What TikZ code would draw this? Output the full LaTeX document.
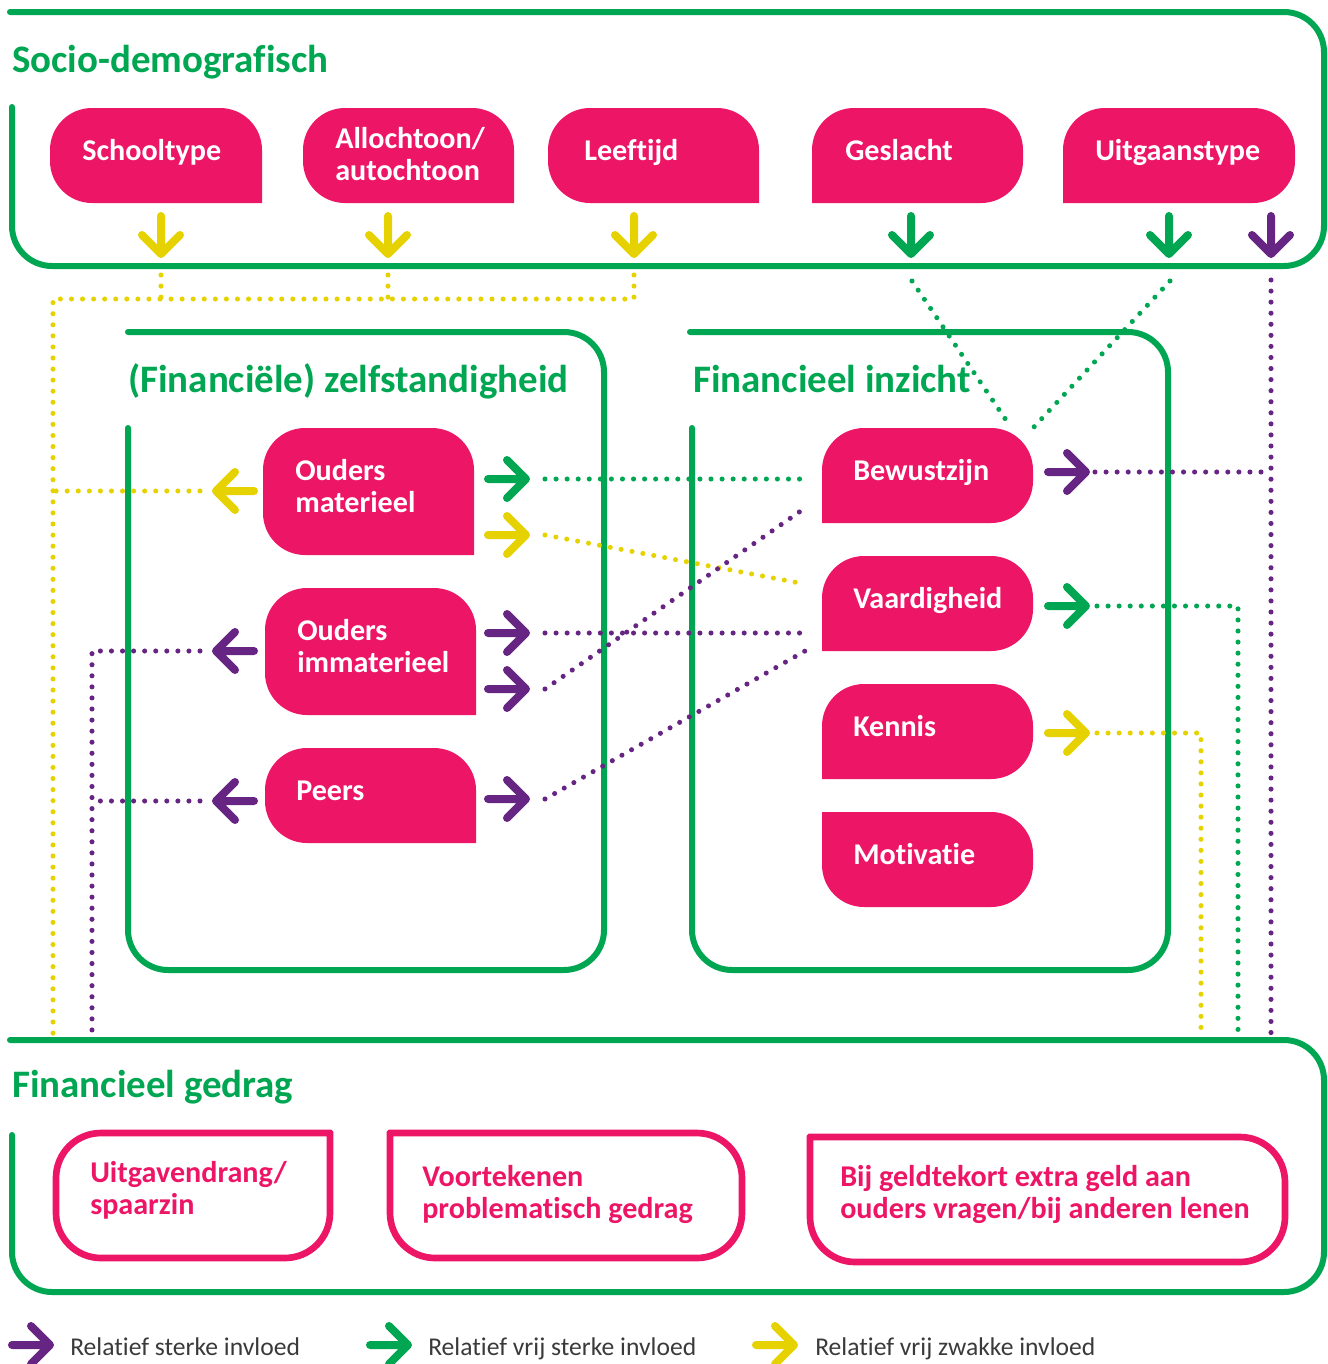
\documentclass[tikz,border=0pt]{standalone}
\usepackage{fontspec}
\setmainfont{Carlito}[Ligatures=NoCommon]
\definecolor{cG}{HTML}{00A651}
\definecolor{cP}{HTML}{ED1566}
\definecolor{cV}{HTML}{662483}
\definecolor{cY}{HTML}{E6D200}
\definecolor{cT}{HTML}{3A3A3A}
\newcommand\pinkshape[8]{%
  \fill[cP] (#1+#5,#2) -- (#3-#6,#2) arc[start angle=-90,end angle=0,radius=#6]
    -- (#3,#4-#7) arc[start angle=0,end angle=90,radius=#7]
    -- (#1+#8,#4) arc[start angle=90,end angle=180,radius=#8]
    -- (#1,#2+#5) arc[start angle=180,end angle=270,radius=#5] -- cycle;}
\newcommand\outshape[8]{%
  \draw[cP,line width=5pt,fill=white] (#1+#5,#2) -- (#3-#6,#2) arc[start angle=-90,end angle=0,radius=#6]
    -- (#3,#4-#7) arc[start angle=0,end angle=90,radius=#7]
    -- (#1+#8,#4) arc[start angle=90,end angle=180,radius=#8]
    -- (#1,#2+#5) arc[start angle=180,end angle=270,radius=#5] -- cycle;}
\begin{document}
\begin{tikzpicture}[x=0.75pt,y=-0.75pt,
  frame/.style={draw=cG,line width=4.5pt,line cap=round},
  dotline/.style={line width=3.8pt,line cap=round,dash pattern=on 0pt off 8.3pt},
  arrowline/.style={line width=6pt,line cap=round,line join=round},
  ntext/.style={text=white,font=\bfseries\fontsize{22.6}{24}\selectfont,align=left,inner sep=0pt},
  btext/.style={text=cP,font=\bfseries\fontsize{22.6}{24}\selectfont,align=left,inner sep=0pt},
  title/.style={text=cG,font=\bfseries\fontsize{29.2}{32}\selectfont,inner sep=0pt,anchor=base west},
  legtext/.style={text=cT,font=\fontsize{19.2}{22}\selectfont,inner sep=0pt,anchor=base west},
  arrR/.pic={\draw[arrowline] (-19,0) -- (19,0) (0,-19) -- (19,0) -- (0,19);},
  arrL/.pic={\draw[arrowline] (19,0) -- (-19,0) (0,-19) -- (-19,0) -- (0,19);},
  arrD/.pic={\draw[arrowline] (0,-19) -- (0,19) (-19,0) -- (0,19) -- (19,0);}]
\useasboundingbox (0,0) rectangle (1328,1364);

% ---------- frames ----------
\draw[frame] (10,12) -- (1284,12) arc[start angle=-90,end angle=0,radius=40]
  -- (1324,226) arc[start angle=0,end angle=90,radius=40]
  -- (52,266) arc[start angle=90,end angle=180,radius=40] -- (12,107);
\draw[frame] (128,332) -- (564,332) arc[start angle=-90,end angle=0,radius=40]
  -- (604,930) arc[start angle=0,end angle=90,radius=40]
  -- (168,970) arc[start angle=90,end angle=180,radius=40] -- (128,428);
\draw[frame] (690,332) -- (1128,332) arc[start angle=-90,end angle=0,radius=40]
  -- (1168,930) arc[start angle=0,end angle=90,radius=40]
  -- (732,970) arc[start angle=90,end angle=180,radius=40] -- (692,428);
\draw[frame] (10,1040) -- (1284,1040) arc[start angle=-90,end angle=0,radius=40]
  -- (1324,1252) arc[start angle=0,end angle=90,radius=40]
  -- (52,1292) arc[start angle=90,end angle=180,radius=40] -- (12,1135);

% ---------- titles ----------
\node[title] (tSocio) at (12,72) {Socio-demografisch};
\node[title] (tZelf) at (128,392) {(Financiële) zelfstandigheid};
\node[title] (tInz) at (693,392) {Financieel inzicht};
\node[title] (tGed) at (12,1097) {Financieel gedrag};

% ---------- pink boxes ----------
\pinkshape{50}{108}{262}{203}{42}{42}{0.01}{42}
\pinkshape{303}{108}{514}{203}{42}{42}{0.01}{42}
\pinkshape{548}{108}{759}{203}{42}{42}{0.01}{42}
\pinkshape{812}{108}{1023}{203}{42}{42}{42}{0.01}
\pinkshape{1063}{108}{1295}{203}{42}{42}{42}{0.01}
\pinkshape{263}{428}{474}{555}{42}{42}{0.01}{42}
\pinkshape{265}{588}{476}{715}{42}{42}{0.01}{42}
\pinkshape{265}{748}{476}{843}{42}{42}{0.01}{42}
\pinkshape{822}{428}{1033}{523}{42}{42}{42}{0.01}
\pinkshape{822}{556}{1033}{651}{42}{42}{42}{0.01}
\pinkshape{822}{684}{1033}{779}{42}{42}{42}{0.01}
\pinkshape{822}{812}{1033}{907}{0.01}{42}{42}{42}

\node[ntext,anchor=base west] (sch) at (82,160) {Schooltype};
\node[ntext,anchor=base west] (all) at (335,180) {Allochtoon/\\autochtoon};
\node[ntext,anchor=base west] (lee) at (584,160) {Leeftijd};
\node[ntext,anchor=base west] (ges) at (845,160) {Geslacht};
\node[ntext,anchor=base west] (uit) at (1095,160) {Uitgaanstype};
\node[ntext,anchor=base west] (om) at (295,512) {Ouders\\materieel};
\node[ntext,anchor=base west] (oi) at (297,672) {Ouders\\immaterieel};
\node[ntext,anchor=base west] (pe) at (296,800) {Peers};
\node[ntext,anchor=base west] (bew) at (853,480) {Bewustzijn};
\node[ntext,anchor=base west] (vaa) at (853,608) {Vaardigheid};
\node[ntext,anchor=base west] (ken) at (853,736) {Kennis};
\node[ntext,anchor=base west] (mot) at (853,864) {Motivatie};

% ---------- behaviour boxes ----------
\outshape{56}{1133}{330}{1258}{45}{0.01}{45}{45}
\outshape{390}{1133}{742}{1258}{0.01}{45}{45}{45}
\outshape{810}{1137}{1285}{1262}{0.01}{45}{45}{45}
\node[btext,anchor=base west] (uitg) at (90,1214) {Uitgavendrang/\\spaarzin};
\node[btext,anchor=base west] (voor) at (422,1218) {Voortekenen\\problematisch gedrag};
\node[btext,anchor=base west] (bij) at (840,1218) {Bij geldtekort extra geld aan\\ouders vragen/bij anderen lenen};

% ---------- arrow positions ----------
\coordinate (aSch) at (161,235);
\coordinate (aAll) at (388,235);
\coordinate (aLee) at (634,235);
\coordinate (aGes) at (911,235);
\coordinate (aUit) at (1169,235);
\coordinate (aUitP) at (1271,235);
\coordinate (aOmL) at (235,491);
\coordinate (aOmG) at (507,479);
\coordinate (aOmY) at (507,535);
\coordinate (aOiL) at (235,651);
\coordinate (aOiA) at (507,633);
\coordinate (aOiB) at (507,689);
\coordinate (aPeL) at (235,801);
\coordinate (aPeR) at (507,799);
\coordinate (aBew) at (1067,472);
\coordinate (aVaa) at (1067,606);
\coordinate (aKen) at (1067,733);

% ---------- dotted connectors ----------
\coordinate (ySch) at (161,275);
\coordinate (yAll) at (388,275);
\coordinate (yLee) at (634,275);
\coordinate (yBus) at (53,299);
\coordinate (yBot) at (53,1036);
\draw[dotline,cY] (ySch) -- (161,299);
\draw[dotline,cY] (yAll) -- (388,299);
\draw[dotline,cY] (yLee) -- (634,299) -- (yBus) -- (yBot);
\draw[dotline,cY] (200,491) -- (53,491);

\coordinate (gGes) at (912,281);
\coordinate (gUit) at (1170,281);
\coordinate (bewTopA) at (1006,420);
\coordinate (bewTopB) at (1033,428);
\draw[dotline,cG] (gGes) -- (bewTopA);
\draw[dotline,cG] (gUit) -- (bewTopB);

\coordinate (pUit) at (1271,280);
\coordinate (pBot) at (1271,1036);
\draw[dotline,cV] (pUit) -- (pBot);

\coordinate (inBew) at (805,479);
\coordinate (inBew2) at (805,508);
\coordinate (inVaa) at (805,584);
\coordinate (inVaa2) at (805,633);
\coordinate (inVaa3) at (805,651);
\draw[dotline,cG] (545,479) -- (inBew);
\draw[dotline,cY] (545,535) -- (inVaa);
\draw[dotline,cV] (545,633) -- (inVaa2);
\draw[dotline,cV] (545,689) -- (inBew2);
\draw[dotline,cV] (545,799) -- (inVaa3);

\draw[dotline,cV] (1095,472) -- (1271,472);
\coordinate (gBot) at (1238,1036);
\coordinate (yBot2) at (1201,1036);
\draw[dotline,cG] (1097,606) -- (1238,606) -- (gBot);
\draw[dotline,cY] (1097,733) -- (1201,733) -- (yBot2);

\coordinate (pBotL) at (92,1036);
\draw[dotline,cV] (200,651) -- (92,651) -- (pBotL);
\draw[dotline,cV] (200,801) -- (92,801);

% ---------- arrows ----------
\pic[color=cY] at (aSch) {arrD};
\pic[color=cY] at (aAll) {arrD};
\pic[color=cY] at (aLee) {arrD};
\pic[color=cG] at (aGes) {arrD};
\pic[color=cG] at (aUit) {arrD};
\pic[color=cV] at (aUitP) {arrD};
\pic[color=cY] at (aOmL) {arrL};
\pic[color=cG] at (aOmG) {arrR};
\pic[color=cY] at (aOmY) {arrR};
\pic[color=cV] at (aOiL) {arrL};
\pic[color=cV] at (aOiA) {arrR};
\pic[color=cV] at (aOiB) {arrR};
\pic[color=cV] at (aPeL) {arrL};
\pic[color=cV] at (aPeR) {arrR};
\pic[color=cV] at (aBew) {arrR};
\pic[color=cG] at (aVaa) {arrR};
\pic[color=cY] at (aKen) {arrR};

% ---------- legend ----------
\pic[color=cV] at (31,1345) {arrR};
\pic[color=cG] at (389,1345) {arrR};
\pic[color=cY] at (775,1345) {arrR};
\node[legtext] (l1) at (70,1355) {Relatief sterke invloed};
\node[legtext] (l2) at (428,1355) {Relatief vrij sterke invloed};
\node[legtext] (l3) at (815,1355) {Relatief vrij zwakke invloed};
\end{tikzpicture}
\end{document}
